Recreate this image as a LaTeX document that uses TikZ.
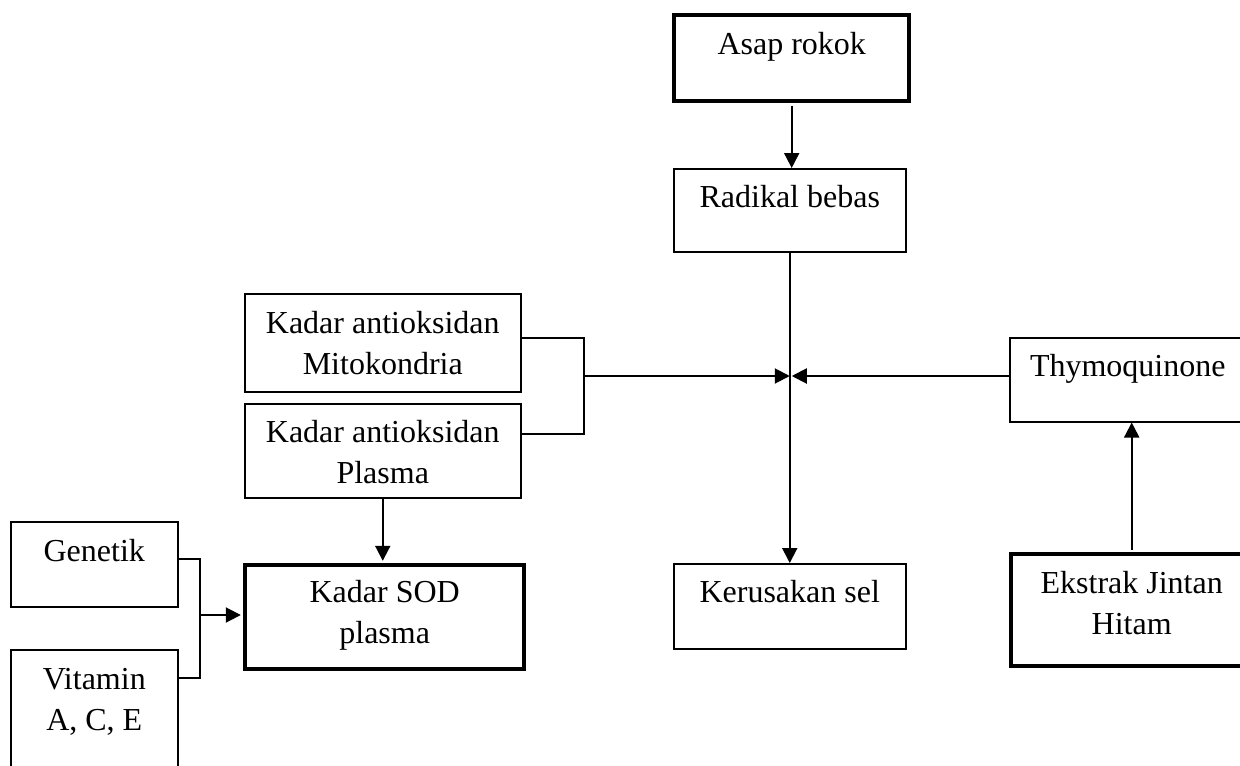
\documentclass[tikz,border=0pt]{standalone}
\usepackage{fontspec}
\setmainfont{Liberation Serif}
\usetikzlibrary{arrows.meta,calc}
\begin{document}
\begin{tikzpicture}[x=0.5pt,y=-0.5pt,
  box/.style={draw, line width=0.75pt, inner sep=0pt, anchor=north west},
  thickbox/.style={box, line width=2.2pt},
  lbl/.style={anchor=base, align=center, inner sep=0pt, font=\fontsize{16pt}{20.5pt}\selectfont},
  conn/.style={line width=1pt},
  arr/.style={conn, -{Triangle[length=7.5pt,width=7.5pt]}}]
\useasboundingbox (0,0) rectangle (1240,765);

% boxes
\node[thickbox, minimum width=117.5pt, minimum height=43pt] (asap) at (672,13) {};
\node[box, minimum width=116pt, minimum height=41.5pt] (radikal) at (673,168) {};
\node[box, minimum width=138pt, minimum height=49pt] (mito) at (244,293) {};
\node[box, minimum width=138pt, minimum height=47pt] (plasma) at (244,403) {};
\node[box, minimum width=119pt, minimum height=42pt] (thymo) at (1009,337) {};
\node[box, minimum width=83.5pt, minimum height=42.5pt] (genetik) at (10,521) {};
\node[box, minimum width=83.5pt, minimum height=75.5pt] (vitamin) at (10,649) {};
\node[thickbox, minimum width=139.5pt, minimum height=52pt] (sod) at (243,563) {};
\node[box, minimum width=116pt, minimum height=42.5pt] (kerusakan) at (673,563) {};
\node[thickbox, minimum width=120.5pt, minimum height=56pt] (ekstrak) at (1009,552) {};

% labels (base anchor = baseline of the last line)
\node[lbl] (tasap) at ($(asap.north)+(0,42)$) {Asap rokok};
\node[lbl] (tradikal) at ($(radikal.north)+(0,39)$) {Radikal bebas};
\node[lbl] (tmito) at ($(mito.north)+(0,81)$) {Kadar antioksidan\\Mitokondria};
\node[lbl] (tplasma) at ($(plasma.north)+(0,80)$) {Kadar antioksidan\\Plasma};
\node[lbl] (tthymo) at ($(thymo.north)+(-1,39)$) {Thymoquinone};
\node[lbl] (tgenetik) at ($(genetik.north)+(0,40)$) {Genetik};
\node[lbl] (tvitamin) at ($(vitamin.north)+(0,81)$) {Vitamin\\A, C, E};
\node[lbl] (tsod) at ($(sod.north)+(0,80)$) {Kadar SOD\\plasma};
\node[lbl] (tkerusakan) at ($(kerusakan.north)+(0,39)$) {Kerusakan sel};
\node[lbl] (tekstrak) at ($(ekstrak.north)+(0,82)$) {Ekstrak Jintan\\Hitam};

% junctions
\coordinate (j1) at (584,376);
\coordinate (cross) at (radikal.south |- j1);
\coordinate (j2) at (200,615);

% connectors
\draw[arr, shorten <=1.1pt] (asap.south) -- (asap.south |- radikal.north);
\draw[arr] (radikal.south) -- (radikal.south |- kerusakan.north);
\draw[conn] ($(mito.east)+(0,-5)$) -| (j1) |- ($(plasma.east)+(0,-17)$);
\draw[arr] (j1) -- (cross);
\draw[arr] (thymo.west |- cross) -- ($(cross)+(2,0)$);
\draw[arr, shorten >=1.1pt] (plasma.south) -- (plasma.south |- sod.north);
\draw[conn] ($(genetik.east)+(0,-5)$) -| (j2) |- ($(vitamin.north east)+(0,29)$);
\draw[arr, shorten >=1.1pt] (j2) -- (j2 -| sod.west);
\draw[arr, shorten <=1.1pt] (ekstrak.north) -- (ekstrak.north |- thymo.south);
\end{tikzpicture}
\end{document}
